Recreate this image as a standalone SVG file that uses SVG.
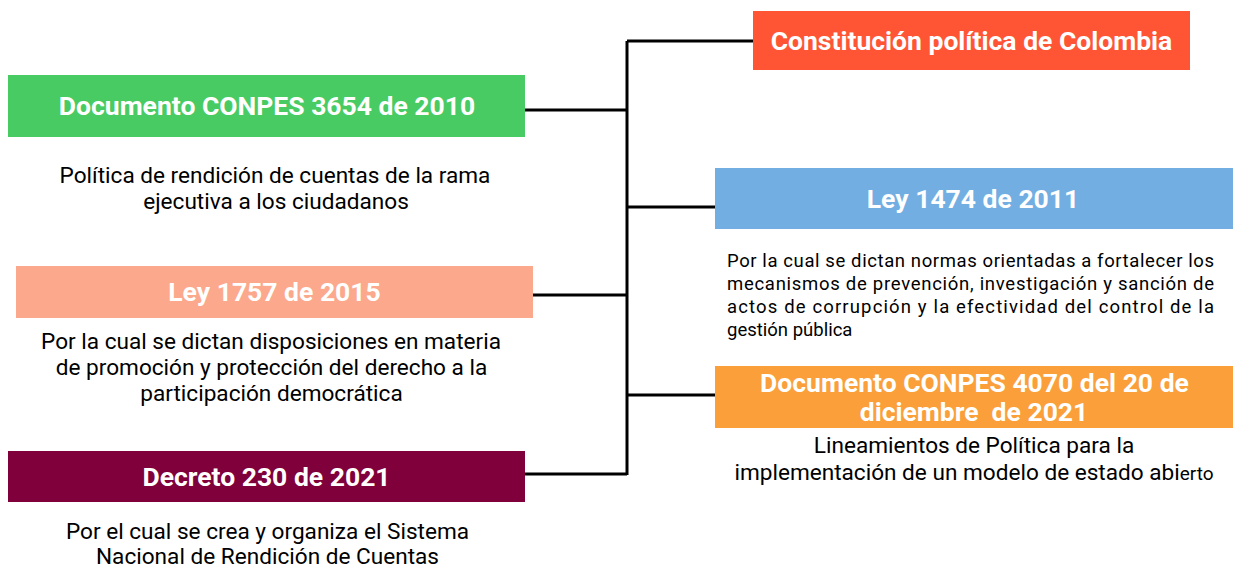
<svg xmlns="http://www.w3.org/2000/svg" width="1233" height="569" viewBox="0 0 1233 569">
<style>
.h{font-family:Roboto,"Liberation Sans",sans-serif;font-weight:bold;font-size:26.5px;fill:#fff;text-anchor:middle}
.b{font-family:Roboto,"Liberation Sans",sans-serif;font-size:22.6px;fill:#000;text-anchor:middle}
.s{font-family:Roboto,"Liberation Sans",sans-serif;font-size:18.5px;fill:#000}
.c{stroke:#000;stroke-width:3;fill:none}
</style>
<rect width="1233" height="569" fill="#fff"/>
<g id="connectors">
<path class="c" d="M627 41V475"/>
<path class="c" d="M627 41H753"/>
<path class="c" d="M525 110H627"/>
<path class="c" d="M627 207H715"/>
<path class="c" d="M533 295H627"/>
<path class="c" d="M627 395H715"/>
<path class="c" d="M525 474H627"/>
</g>
<g id="constitucion">
<rect x="753" y="11" width="437" height="59" fill="#FF5535"/>
<text class="h" x="971.5" y="50">Constitución política de Colombia</text>
</g>
<g id="conpes3654">
<rect x="8" y="75" width="517" height="62" fill="#48CB62"/>
<text class="h" x="267" y="115">Documento CONPES 3654 de 2010</text>
<text class="b" x="275" y="183">Política de rendición de cuentas de la rama</text>
<text class="b" x="276" y="209">ejecutiva a los ciudadanos</text>
</g>
<g id="ley1474">
<rect x="715" y="168" width="518" height="61" fill="#72AEE2"/>
<text class="h" x="973" y="208">Ley 1474 de 2011</text>
<text class="s" x="727" y="267" textLength="487" lengthAdjust="spacing">Por la cual se dictan normas orientadas a fortalecer los</text>
<text class="s" x="727" y="290" textLength="487" lengthAdjust="spacing">mecanismos de prevención, investigación y sanción de</text>
<text class="s" x="727" y="313" textLength="487" lengthAdjust="spacing">actos de corrupción y la efectividad del control de la</text>
<text class="s" x="727" y="336">gestión pública</text>
</g>
<g id="ley1757">
<rect x="16" y="266" width="517" height="52" fill="#FCA88C"/>
<text class="h" x="274.5" y="301">Ley 1757 de 2015</text>
<text class="b" x="271" y="349">Por la cual se dictan disposiciones en materia</text>
<text class="b" x="271.5" y="375">de promoción y protección del derecho a la</text>
<text class="b" x="271.5" y="401">participación democrática</text>
</g>
<g id="conpes4070">
<rect x="715" y="366" width="518" height="62" fill="#FA9F3A"/>
<text class="h" x="974.5" y="392">Documento CONPES 4070 del 20 de</text>
<text class="h" x="974" y="421" xml:space="preserve">diciembre  de 2021</text>
<text class="b" x="974" y="453">Lineamientos de Política para la</text>
<text class="b" x="974" y="480">implementación de un modelo de estado abi<tspan font-size="19">erto</tspan></text>
</g>
<g id="decreto230">
<rect x="8" y="451" width="517" height="51" fill="#7F003B"/>
<text class="h" x="266.5" y="486">Decreto 230 de 2021</text>
<text class="b" x="267.5" y="539">Por el cual se crea y organiza el Sistema</text>
<text class="b" x="267.5" y="564">Nacional de Rendición de Cuentas</text>
</g>
</svg>
